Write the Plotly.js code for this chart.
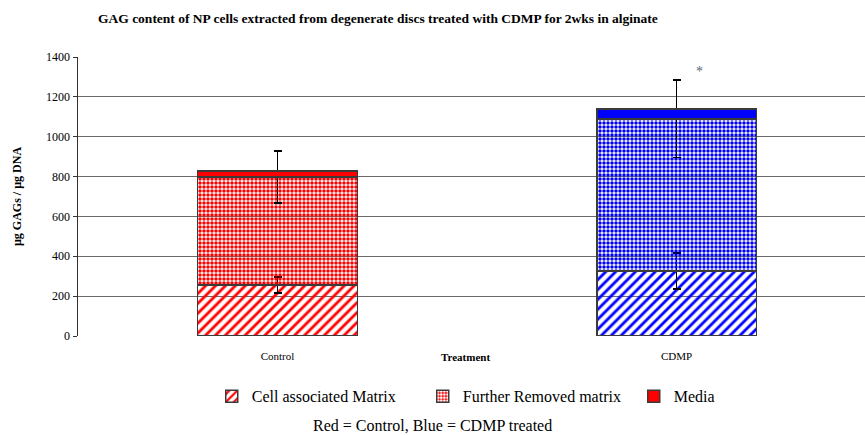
<!DOCTYPE html>
<html>
<head>
<meta charset="utf-8">
<script src="https://cdn.plot.ly/plotly-3.0.1.min.js"></script>
<style>html,body{margin:0;padding:0;background:#fff;}#chart{width:865px;height:435px;}</style>
</head>
<body>
<div id="chart"></div>
<script>
var categories = ['Control', 'CDMP'];
var seriesNames = ['Cell associated Matrix', 'Further Removed matrix', 'Media'];
var cellMatrix = [256, 326];
var cellMatrixErr = [40, 90];
var furtherRemoved = [542, 763];
var furtherRemovedErr = [130, 195];
var media = [30, 50];
var groupColors = ['#FF0000', '#0000FF'];
var yTicks = [0, 200, 400, 600, 800, 1000, 1200, 1400];

var serif = 'Liberation Serif, Times New Roman, serif';
var outline = {color: '#3a3a3a', width: 1.5};

var traces = [
  {
    type: 'bar', name: seriesNames[0], x: categories, y: cellMatrix,
    width: 0.4,
    marker: {color: groupColors, line: outline,
      pattern: {shape: '/', fgcolor: groupColors, bgcolor: '#ffffff', size: 7, solidity: 0.4}},
    error_y: {type: 'data', array: cellMatrixErr, visible: true, color: '#000', thickness: 1.3, width: 4}
  },
  {
    type: 'bar', name: seriesNames[1], x: categories, y: furtherRemoved,
    width: 0.4,
    marker: {color: groupColors, line: outline,
      pattern: {shape: '.', fgcolor: '#ffffff', bgcolor: groupColors, size: 4, solidity: 0.6}},
    error_y: {type: 'data', array: furtherRemovedErr, visible: true, color: '#000', thickness: 1.3, width: 4}
  },
  {
    type: 'bar', name: seriesNames[2], x: categories, y: media,
    width: 0.4,
    marker: {color: groupColors, line: outline}
  }
];

var layout = {
  width: 865, height: 435,
  margin: {l: 78, r: 0, t: 57, b: 99, autoexpand: false},
  paper_bgcolor: '#fff', plot_bgcolor: '#fff',
  barmode: 'stack',
  showlegend: true,
  title: {text: '<b>GAG content of NP cells extracted from degenerate discs treated with CDMP for 2wks in alginate</b>',
    font: {family: serif, size: 13.5, color: '#000'}, x: 98/865, xanchor: 'left', y: 1 - 18/435, yanchor: 'middle'},
  xaxis: {
    range: [-0.5, 1.472], type: 'category',
    showgrid: false, zeroline: false, showline: false, ticks: '',
    ticklabelstandoff: 12,
    tickfont: {family: serif, size: 11, color: '#000'}
  },
  yaxis: {
    range: [0, 1400], tickvals: yTicks, ticktext: yTicks.map(String),
    showgrid: true, gridcolor: '#6a6a6a', gridwidth: 1,
    zeroline: false, showline: true, linecolor: '#333', linewidth: 1.5,
    ticks: 'outside', ticklen: 4, tickcolor: '#333',
    tickfont: {family: serif, size: 12, color: '#000'},
    title: {text: '<b>µg GAGs / µg DNA</b>', font: {family: serif, size: 12, color: '#000'}, standoff: 22}
  },
  legend: {
    orientation: 'h', x: 147/865, xanchor: 'left', y: -0.155, yanchor: 'top',
    font: {family: serif, size: 16, color: '#000'},
    traceorder: 'normal', entrywidth: 166, entrywidthmode: 'pixels',
    itemwidth: 30
  },
  annotations: [
    {x: 'CDMP', y: 1325, text: '*', showarrow: false, xshift: 23,
      font: {family: serif, size: 14, color: '#556677'}},
    {xref: 'paper', yref: 'paper', x: (465 - 78) / 787, y: -(357 - 336) / 279, xanchor: 'center', yanchor: 'middle',
      text: '<b>Treatment</b>', showarrow: false,
      font: {family: serif, size: 11, color: '#000'}},
    {xref: 'paper', yref: 'paper', x: (432 - 78) / 787, y: -(425 - 336) / 279, xanchor: 'center', yanchor: 'middle',
      text: 'Red = Control, Blue = CDMP treated', showarrow: false,
      font: {family: serif, size: 16, color: '#000'}}
  ]
};

Plotly.newPlot('chart', traces, layout, {displayModeBar: false, staticPlot: true});
</script>
</body>
</html>
